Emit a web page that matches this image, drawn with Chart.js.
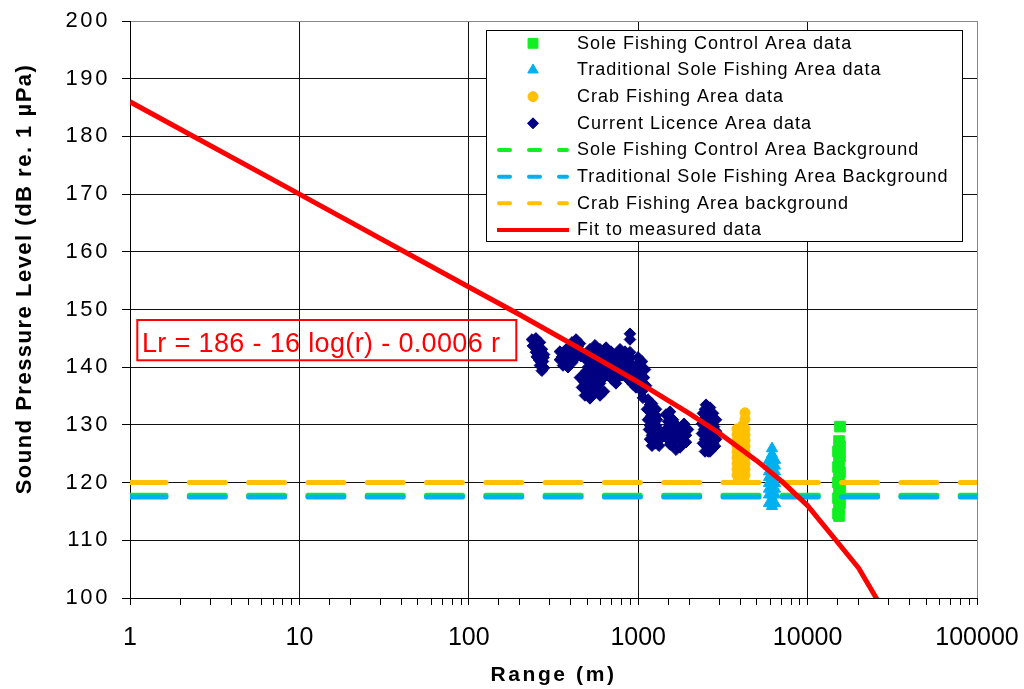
<!DOCTYPE html>
<html>
<head>
<meta charset="utf-8">
<title>Sound pressure level against range</title>
<script src="https://cdn.jsdelivr.net/npm/chart.js@4.4.1/dist/chart.umd.min.js"></script>
<style>
  html, body { margin: 0; padding: 0; background: #fff; }
  canvas { display: block; }
</style>
</head>
<body>
<canvas id="spl-chart" width="1024" height="689"></canvas>
<script>
const FONT = '"Liberation Sans", Arial, Helvetica, sans-serif';

// axis text
const levelTitle = "Sound Pressure Level (dB re. 1 \u00b5Pa)";
const rangeTitle = "Range (m)";
const rangeTickLabels = ["1", "10", "100", "1000", "10000", "100000"];

// fitted propagation loss: Lr = 186 - 16 log(r) - 0.0006 r
const fitLabel = "Lr = 186 - 16 log(r) - 0.0006 r";
const fitRange = [1, 10, 100, 200, 500, 1000, 2000, 3000, 5000, 7000, 10000, 20000, 30000];
const fitLevel = [186.0, 170.0, 153.9, 149.1, 142.5, 137.4, 132.0, 128.6, 123.8, 120.3, 116.0, 105.2, 96.4];

// background levels measured in each area
const bgRange = [1, 100000];
const soleControlBg = [117.8, 117.8];
const soleTradBg = [117.5, 117.5];
const crabBg = [120.0, 120.0];

// current licence area recordings (one row per survey run)
const licenceRange = [
  236, 249, 263, 239, 256, 270, 249, 263, 278, 259, 274, 263, 278, 270, 246, 267, 252, 268, 276,
  345, 365, 345, 370, 385, 396, 385, 407, 430, 453, 418, 442, 459, 430, 407, 355, 375, 375, 418, 441, 400, 360,
  453, 479, 505, 466, 499, 526, 485, 519, 548, 564, 595, 579, 492, 534,
  505, 534, 564, 595, 628, 646, 682, 700, 739, 781, 760, 824, 802, 847, 871,
  919, 944, 970, 970, 1025, 1082, 1025, 1053, 1112, 579, 620, 663, 700, 739,
  620, 548, 479, 519, 556, 595, 646, 691, 739, 781, 847, 894, 894, 894, 894,
  628, 595, 997, 1053, 1097,
  512, 541, 512, 472, 556, 611, 637, 672, 720, 760, 802, 859, 907, 932, 997, 1011, 1067,
  571, 611, 663, 720, 836, 505, 541, 579,
  1142, 1206, 1127, 1206, 1274, 1142, 1223, 1291, 1158, 1240, 1309, 1174, 1257, 1345, 1382, 1327,
  1174, 1190, 1274, 1174, 1274, 1206, 1291, 1206, 1345,
  1459, 1541, 1500, 1605, 1459, 1562, 1672, 1500, 1605, 1718, 1814, 1864, 1765, 1672, 1915, 1968, 1864,
  1520, 1541, 1649, 1541, 1649, 1765, 1541, 1915, 1741, 1627, 1864,
  2513, 2654, 2413, 2583, 2764, 2381, 2548, 2727, 2880, 2381, 2548, 2727, 2880, 2413, 2583, 2764, 2880, 2480, 2654,
  2480, 2654, 2446, 2618, 2802, 2446, 2480, 2654, 2802, 2583, 2841
];
const licenceLevel = [
  144.8, 145.0, 144.3, 143.7, 143.4, 143.1, 142.6, 142.1, 142.2, 141.3, 141.0, 140.3, 139.9, 139.4, 143.9, 142.6, 141.8, 140.8, 141.7,
  142.7, 142.0, 141.3, 140.8, 140.0, 141.7, 143.4, 144.3, 144.8, 144.1, 143.1, 142.7, 141.9, 141.7, 140.8, 141.8, 141.3, 143.0, 142.0, 143.6, 142.5, 140.3,
  138.2, 137.5, 138.2, 136.5, 136.1, 136.8, 135.1, 134.6, 135.4, 136.5, 137.2, 138.2, 139.3, 139.3,
  141.0, 142.0, 142.7, 141.3, 142.0, 140.3, 141.3, 139.6, 140.6, 139.3, 138.2, 140.0, 141.3, 138.9, 137.9,
  140.5, 139.3, 137.9, 136.5, 137.2, 138.2, 139.6, 135.8, 136.8, 139.6, 138.9, 138.6, 137.9, 137.2,
  140.3, 140.6, 141.7, 143.1, 143.8, 143.1, 143.4, 142.7, 142.0, 143.1, 142.0, 141.7, 145.8, 144.8, 142.6,
  135.8, 135.1, 141.7, 141.0, 139.6,
  137.9, 137.3, 135.6, 138.6, 138.7, 137.9, 139.6, 140.5, 138.9, 140.0, 138.6, 140.3, 139.1, 137.0, 138.6, 140.6, 134.7,
  141.0, 142.2, 142.6, 141.3, 142.7, 140.0, 141.7, 135.8,
  134.4, 133.7, 132.7, 132.0, 132.7, 130.9, 130.2, 130.9, 129.2, 128.5, 129.2, 127.5, 126.8, 127.5, 128.2, 126.4,
  133.5, 131.5, 131.6, 129.9, 129.9, 128.2, 128.0, 126.4, 128.9,
  131.8, 132.3, 130.6, 130.9, 129.2, 128.9, 129.6, 127.5, 127.1, 127.8, 128.9, 127.1, 126.1, 125.7, 128.2, 129.2, 130.2,
  131.3, 129.9, 130.2, 128.2, 128.3, 127.5, 126.6, 127.0, 129.2, 126.3, 128.9,
  133.5, 133.0, 132.0, 131.6, 132.0, 130.2, 129.9, 130.2, 130.9, 128.5, 128.2, 128.5, 128.9, 126.8, 126.4, 126.8, 127.5, 125.4, 125.4,
  132.7, 131.1, 130.9, 129.2, 129.7, 129.2, 127.5, 127.3, 127.8, 125.4, 126.3
];

// crab fishing area recordings
const crabRange = [
  4271, 4271, 4160, 3831, 4045, 4271, 3831, 4045, 4271, 3831, 4045, 4271, 3831, 4045, 4271,
  3831, 4045, 4271, 3831, 4045, 4271, 3831, 4045, 4271, 3831, 4045, 4271, 3831, 4045, 4271, 3900, 4200
];
const crabLevel = [
  132.1, 131.0, 130.0, 129.3, 129.3, 129.3, 128.3, 128.3, 128.3, 127.3, 127.3, 127.3, 126.3, 126.3, 126.3,
  125.3, 125.3, 125.3, 124.3, 124.3, 124.3, 123.3, 123.3, 123.3, 122.3, 122.3, 122.3, 121.3, 121.3, 121.3, 120.6, 120.6
];

// traditional sole fishing area recordings
const soleTradRange = [
  6164, 6164, 5917, 6420, 5917, 6164, 6420, 5917, 6164, 6420, 5917, 6164, 6420,
  5917, 6164, 6420, 5917, 6164, 6420, 5917, 6164, 6420, 6164, 5917, 6420, 6164
];
const soleTradLevel = [
  125.9, 124.9, 123.9, 123.9, 122.9, 122.9, 122.9, 121.9, 121.9, 121.9, 120.9, 120.9, 120.9,
  119.9, 119.9, 119.9, 118.9, 118.9, 118.9, 117.9, 117.9, 117.9, 116.9, 116.4, 116.4, 115.9
];

// sole fishing control area recordings
const soleControlRange = [
  15533, 15330, 15533, 15117, 15533, 15330, 15117, 15533, 15330, 15117,
  15533, 15330, 15117, 15533, 15330, 15117, 15330
];
const soleControlLevel = [
  129.7, 127.2, 126.3, 125.4, 124.5, 123.6, 122.7, 121.8, 120.9, 120.0,
  119.1, 118.2, 117.3, 116.4, 115.5, 114.6, 114.2
];

const GREEN = "#11ee22";
const BLUE = "#00b0f0";
const ORANGE = "#ffc000";
const NAVY = "#000080";
const RED = "#ff0000";

function points(xs, ys) {
  return xs.map((x, i) => ({ x: x, y: ys[i] }));
}

function markers(label, xs, ys, color, style, radius, legendRadius) {
  return {
    label: label,
    data: points(xs, ys),
    showLine: false,
    pointStyle: style,
    pointRadius: radius,
    pointHoverRadius: radius,
    pointBorderWidth: 1,
    backgroundColor: color,
    borderColor: color,
    legendRadius: legendRadius,
  };
}

function background(label, ys, color) {
  return {
    label: label,
    data: points(bgRange, ys),
    showLine: true,
    pointRadius: 0,
    borderColor: color,
    backgroundColor: color,
    borderWidth: 5,
    borderDash: [36, 23.3],
    borderCapStyle: "round",
    clip: 0,
  };
}

const datasets = [
  {
    label: "Fit to measured data",
    data: points(fitRange, fitLevel),
    showLine: true,
    pointRadius: 0,
    borderColor: RED,
    backgroundColor: RED,
    borderWidth: 5,
    borderJoinStyle: "round",
    clip: 0,
  },
  background("Traditional Sole Fishing Area Background", soleTradBg, BLUE),
  background("Sole Fishing Control Area Background", soleControlBg, GREEN),
  background("Crab Fishing Area background", crabBg, ORANGE),
  markers("Current Licence Area data", licenceRange, licenceLevel, NAVY, "rectRot", 5.8, 5.5),
  markers("Crab Fishing Area data", crabRange, crabLevel, ORANGE, "circle", 5, 5),
  markers("Traditional Sole Fishing Area data", soleTradRange, soleTradLevel, BLUE, "triangle", 6.5, 6),
  markers("Sole Fishing Control Area data", soleControlRange, soleControlLevel, GREEN, "rect", 7.5, 7),
];

const legendOrder = [
  "Sole Fishing Control Area data",
  "Traditional Sole Fishing Area data",
  "Crab Fishing Area data",
  "Current Licence Area data",
  "Sole Fishing Control Area Background",
  "Traditional Sole Fishing Area Background",
  "Crab Fishing Area background",
  "Fit to measured data",
];

function decadeLabel(v) {
  return rangeTickLabels.find((t) => Math.abs(Number(t) - v) < 1e-6 * Number(t));
}

// legend box, equation box and the rotated y title are drawn by hand
const decorations = {
  id: "decorations",
  beforeDraw(chart) {
    // axis numbers and titles are set wide
    chart.ctx.letterSpacing = "2.6px";
  },
  afterDatasetsDraw(chart) {
    chart.ctx.letterSpacing = "0px";
  },
  afterDraw(chart) {
    const ctx = chart.ctx;

    ctx.save();
    ctx.letterSpacing = "1.5px";
    ctx.font = "bold 22px " + FONT;
    ctx.fillStyle = "#000";
    ctx.textAlign = "center";
    ctx.textBaseline = "middle";
    ctx.translate(25, 279);
    ctx.rotate(-Math.PI / 2);
    ctx.fillText(levelTitle, 0, 0);
    ctx.restore();

    ctx.save();
    ctx.strokeStyle = RED;
    ctx.lineWidth = 2;
    ctx.strokeRect(137.3, 320, 379, 40.3);
    ctx.letterSpacing = "0.35px";
    ctx.font = "27px " + FONT;
    ctx.fillStyle = RED;
    ctx.textAlign = "left";
    ctx.textBaseline = "alphabetic";
    ctx.fillText(fitLabel, 142, 351.7);
    ctx.restore();

    ctx.save();
    ctx.fillStyle = "#fff";
    ctx.fillRect(486.5, 30.5, 476, 211);
    ctx.strokeStyle = "#000";
    ctx.lineWidth = 1;
    ctx.strokeRect(486.5, 30.5, 476, 211);
    legendOrder.forEach((label, i) => {
      const ds = chart.data.datasets.find((d) => d.label === label);
      const y = 43.3 + i * 26.67;
      ctx.save();
      if (ds.showLine) {
        ctx.strokeStyle = ds.borderColor;
        ctx.lineWidth = 4;
        ctx.beginPath();
        if (ds.borderDash) {
          ctx.lineCap = "round";
          ctx.setLineDash([11, 19]);
          ctx.moveTo(499, y);
          ctx.lineTo(567, y);
        } else {
          ctx.moveTo(497, y);
          ctx.lineTo(569, y);
        }
        ctx.stroke();
      } else {
        ctx.fillStyle = ds.backgroundColor;
        ctx.strokeStyle = ds.borderColor;
        ctx.lineWidth = 1;
        Chart.helpers.drawPoint(ctx, {
          pointStyle: ds.pointStyle,
          radius: ds.legendRadius,
          rotation: 0,
          borderWidth: 1,
        }, 533, y);
      }
      ctx.restore();
      ctx.letterSpacing = "1px";
      ctx.font = "18px " + FONT;
      ctx.fillStyle = "#000";
      ctx.textAlign = "left";
      ctx.textBaseline = "middle";
      ctx.fillText(label, 577, y + 0.5);
    });
    ctx.restore();
    ctx.letterSpacing = "0px";
  },
};

new Chart(document.getElementById("spl-chart").getContext("2d"), {
  type: "scatter",
  data: { datasets: datasets },
  options: {
    responsive: false,
    animation: false,
    events: [],
    layout: { padding: { top: 21, right: 47, bottom: 0, left: 0 } },
    plugins: {
      legend: { display: false },
      title: { display: false },
      tooltip: { enabled: false },
    },
    scales: {
      x: {
        type: "logarithmic",
        position: "bottom",
        min: 1,
        max: 100000,
        afterFit(scale) {
          scale.height = 91;
          scale.paddingLeft = 0;
          scale.paddingRight = 0;
        },
        border: { color: "#000", width: 1 },
        grid: {
          color: (c) => {
            if (!c.tick || !decadeLabel(c.tick.value)) return "rgba(0,0,0,0)";
            return c.tick.value >= 100000 ? "#888" : "#111";
          },
          tickColor: "#000",
          tickLength: 7,
          lineWidth: 1,
        },
        ticks: {
          autoSkip: false,
          maxRotation: 0,
          minRotation: 0,
          padding: 18,
          z: 1,
          color: "#000",
          font: { family: FONT, size: 25 },
          callback: (v) => decadeLabel(v) || "",
        },
        title: {
          display: true,
          text: rangeTitle,
          color: "#000",
          font: { family: FONT, size: 21, weight: "bold" },
          padding: { top: 0, bottom: 1 },
        },
      },
      y: {
        type: "linear",
        position: "left",
        min: 100,
        max: 200,
        afterFit(scale) {
          scale.width = 130;
          scale.paddingTop = 0;
          scale.paddingBottom = 0;
        },
        border: { color: "#000", width: 1 },
        grid: {
          color: (c) => (c.tick && c.tick.value >= 200 ? "#888" : "#111"),
          tickColor: "#000",
          tickLength: 8,
          lineWidth: 1,
        },
        ticks: {
          stepSize: 10,
          padding: 12,
          color: "#000",
          font: { family: FONT, size: 22 },
        },
        title: { display: false },
      },
    },
  },
  plugins: [decorations],
});
</script>
</body>
</html>
